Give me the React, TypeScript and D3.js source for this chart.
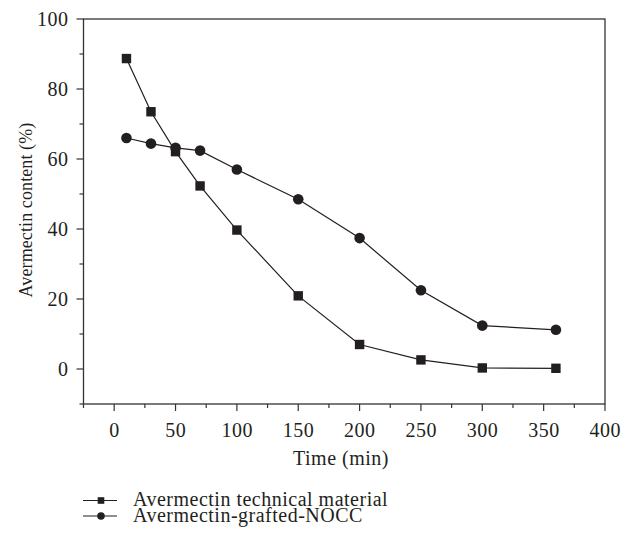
import React from "react";
import * as d3 from "d3";

const times = [10, 30, 50, 70, 100, 150, 200, 250, 300, 360];
const technical = [88.7, 73.5, 62.1, 52.3, 39.7, 20.9, 7.0, 2.6, 0.3, 0.2];
const grafted = [66.0, 64.4, 63.2, 62.4, 57.0, 48.5, 37.4, 22.5, 12.4, 11.2];
const xTicks = [0, 50, 100, 150, 200, 250, 300, 350, 400];
const yTicks = [0, 20, 40, 60, 80, 100];
const seriesNames = ["Avermectin technical material", "Avermectin-grafted-NOCC"];

const W = 622, H = 537;
const L = 83.5, R = 605, T = 19, B = 404;
const FONT = "'Liberation Serif', 'Times New Roman', serif";
const INK = "#231f20";
const FS = 20;
const LS = 0.5;

export default function App() {
  const x = d3.scaleLinear().domain([-25, 400]).range([L, R]);
  const y = d3.scaleLinear().domain([-10, 100]).range([B, T]);
  const line = d3.line<number>().x((_, i) => x(times[i])).y((d) => y(d));
  const xMinor = d3.range(-25, 400, 50);
  const yMinor = d3.range(-10, 100, 20);
  return (
    <svg width={W} height={H} style={{ position: "absolute", left: 0, top: 0, background: "#fff" }} fontFamily={FONT}>
      <rect x={L} y={T} width={R - L} height={B - T} fill="none" stroke="#333" strokeWidth={1.3} />
      {xTicks.map((t) => (
        <g key={"xt" + t}>
          <line x1={x(t)} x2={x(t)} y1={B} y2={B + 7} stroke="#333" strokeWidth={1.2} />
          <text x={x(t) + LS / 2} y={437} textAnchor="middle" fontSize={FS} letterSpacing={LS} fill={INK}>{t}</text>
        </g>
      ))}
      {xMinor.map((t) => (
        <line key={"xm" + t} x1={x(t)} x2={x(t)} y1={B} y2={B + 4} stroke="#333" strokeWidth={1.2} />
      ))}
      {yTicks.map((t) => (
        <g key={"yt" + t}>
          <line x1={L - 7} x2={L} y1={y(t)} y2={y(t)} stroke="#333" strokeWidth={1.2} />
          <text x={68.5} y={y(t) + 6.6} textAnchor="end" fontSize={FS} letterSpacing={LS} fill={INK}>{t}</text>
        </g>
      ))}
      {yMinor.map((t) => (
        <line key={"ym" + t} x1={L - 4} x2={L} y1={y(t)} y2={y(t)} stroke="#333" strokeWidth={1.2} />
      ))}
      <text x={341} y={464.5} textAnchor="middle" fontSize={FS} letterSpacing={LS} fill={INK}>Time (min)</text>
      <text transform={`translate(32,210) rotate(-90)`} textAnchor="middle" fontSize={18} letterSpacing={0.1} fill={INK}>
        Avermectin content (%)
      </text>
      <path d={line(technical) || ""} fill="none" stroke={INK} strokeWidth={1.2} />
      <path d={line(grafted) || ""} fill="none" stroke={INK} strokeWidth={1.2} />
      {technical.map((v, i) => (
        <rect key={"s" + i} x={x(times[i]) - 4.7} y={y(v) - 4.7} width={9.4} height={9.4} fill={INK} />
      ))}
      {grafted.map((v, i) => (
        <circle key={"c" + i} cx={x(times[i])} cy={y(v)} r={5.3} fill={INK} />
      ))}
      {seriesNames.map((n, i) => {
        const ly = 500.5 + i * 15.5;
        return (
          <g key={"lg" + i}>
            <line x1={83} x2={117} y1={ly} y2={ly} stroke={INK} strokeWidth={1.2} />
            {i === 0 ? (
              <rect x={101 - 3.3} y={ly - 3.3} width={6.6} height={6.6} fill={INK} />
            ) : (
              <circle cx={101} cy={ly} r={3.8} fill={INK} />
            )}
            <text x={133} y={ly + 5.5} fontSize={FS} letterSpacing={LS} fill={INK}>{n}</text>
          </g>
        );
      })}
    </svg>
  );
}
